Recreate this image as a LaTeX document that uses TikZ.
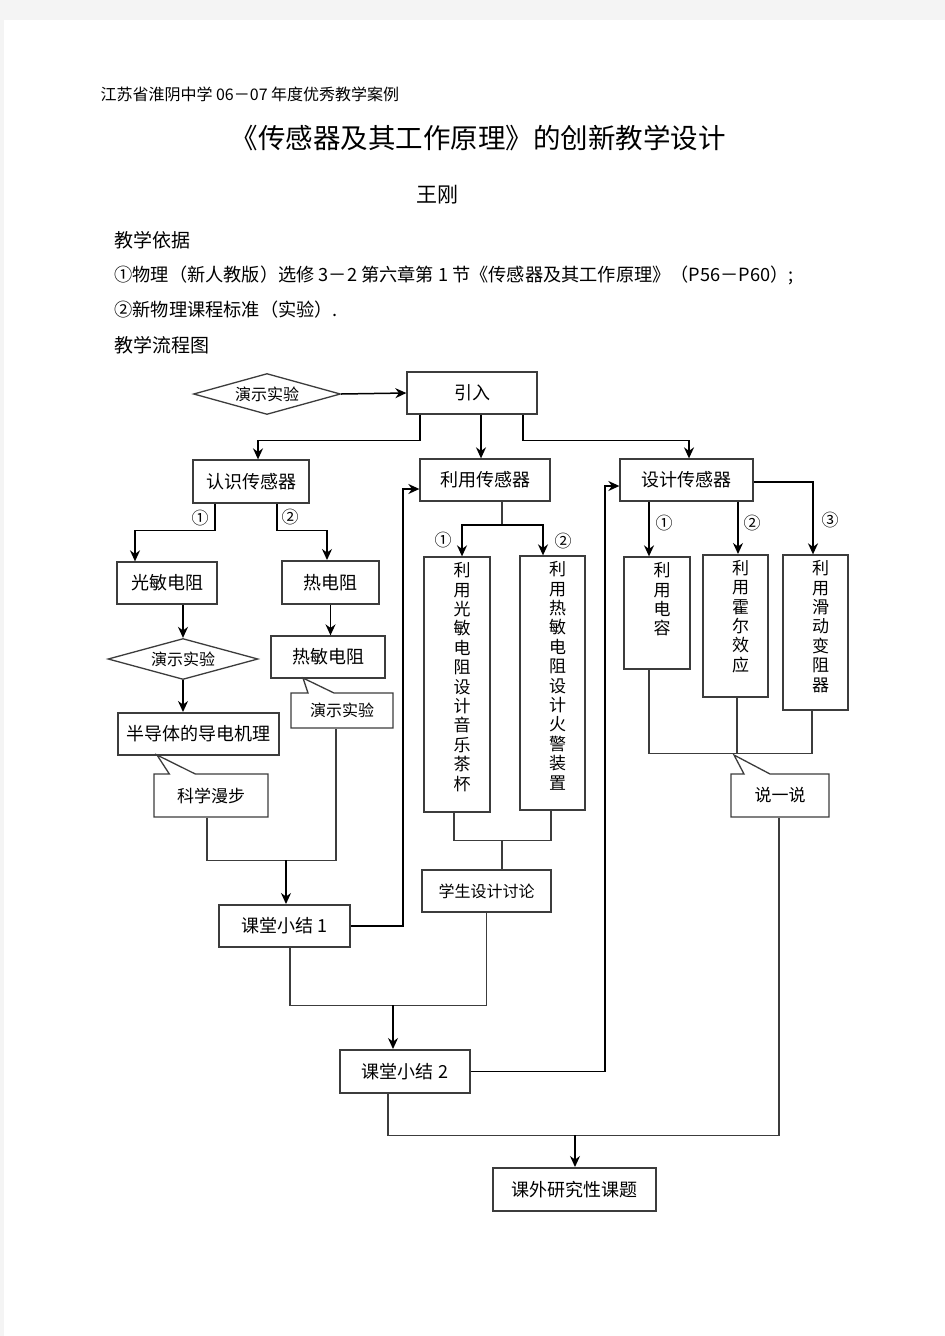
\documentclass[tikz,border=0pt]{standalone}
\usepackage{fontspec}
\setmainfont{Noto Sans CJK SC}
\usetikzlibrary{arrows.meta, shapes.geometric, shapes.callouts}

\definecolor{linegray}{HTML}{3C3C3C}
\definecolor{pagegray}{HTML}{F4F4F4}

\tikzset{
  fs16/.style={font=\fontsize{16pt}{18pt}\selectfont},
  fs17/.style={font=\fontsize{17pt}{19pt}\selectfont},
  fs18/.style={font=\fontsize{18pt}{20pt}\selectfont},
  box/.style={draw=linegray, line width=1.3pt, rectangle, minimum height=42pt, inner sep=0pt, fs18},
  tbox/.style={box, line width=2pt},
  tallbox/.style={draw=linegray, line width=1.3pt, rectangle, inner sep=0pt},
  vtext/.style={align=center, inner sep=0pt, font=\fontsize{17pt}{19.4pt}\selectfont},
  demo/.style={draw=linegray, line width=1.3pt, diamond, aspect=3.6, inner sep=0pt, fs16},
  note/.style={draw=linegray, line width=1.3pt, rectangle callout, callout pointer width=26pt, inner sep=0pt, fs17},
  conn/.style={draw=linegray, line width=1.3pt},
  arr/.style={draw=black, line width=1.5pt, -{Stealth[length=11pt, width=10pt]}},
  num/.style={inner sep=0pt, fs17},
}

\begin{document}
\begin{tikzpicture}[x=1pt, y=-1pt]
    % Page
    \useasboundingbox (0,0) rectangle (945,1336);
    \fill[pagegray] (0,0) rectangle (945,1336);
    \fill[white] (4,20) rectangle (945,1336);

    % Heading
    \node[anchor=west, fs16] at (97,94) (school) {江苏省淮阴中学 06－07 年度优秀教学案例};
    \node[font=\fontsize{27.5pt}{30pt}\selectfont] at (478,138) (title) {《传感器及其工作原理》的创新教学设计};
    \node[font=\fontsize{21pt}{24pt}\selectfont] at (437,195) (author) {王刚};
    \node[anchor=west, font=\fontsize{19pt}{21pt}\selectfont] at (111,240) (basis) {教学依据};
    \node[anchor=west, font=\fontsize{18.2pt}{20pt}\selectfont] at (111,275) (refA) {①物理（新人教版）选修 3－2 第六章第 1 节《传感器及其工作原理》（P56－P60）;};
    \node[anchor=west, font=\fontsize{18.2pt}{20pt}\selectfont] at (111,310) (refB) {②新物理课程标准（实验）.};
    \node[anchor=west, font=\fontsize{19pt}{21pt}\selectfont] at (111,345) (flow) {教学流程图};

    % Nodes
    \node[demo, minimum width=147pt, minimum height=41pt] at (267,394) (demoA) {演示实验};
    \node[box, minimum width=130pt] at (472,393) (intro) {引入};
    \node[box, minimum width=116pt, minimum height=43pt] at (251,481.5) (know) {认识传感器};
    \node[box, minimum width=130pt] at (485,480) (use) {利用传感器};
    \node[box, minimum width=133pt] at (686.5,480) (design) {设计传感器};
    \node[box, minimum width=100pt] at (167,583) (photo) {光敏电阻};
    \node[tbox, minimum width=97pt, minimum height=43pt] at (330.5,582.5) (thermo) {热电阻};
    \node[demo, minimum width=150pt, minimum height=41pt] at (183,659) (demoB) {演示实验};
    \node[box, minimum width=114pt] at (328,657) (thermB) {热敏电阻};
    \node[tbox, minimum width=161pt] at (198.5,734) (semi) {半导体的导电机理};
    \node[note, minimum width=114pt, minimum height=43pt, callout absolute pointer={(157,755)}] at (211,795.5) (sci) {科学漫步};
    \node[note, fs16, minimum width=102pt, minimum height=35pt, callout absolute pointer={(303,678)}] at (342,710.5) (demoC) {演示实验};
    \node[tbox, minimum width=131pt] at (284.5,926) (sumA) {课堂小结 1};
    \node[tallbox, minimum width=66pt, minimum height=255pt] at (457,684.5) (cup) {};
    \node[vtext, anchor=north] at ([xshift=5pt, yshift=-6pt]cup.north) (cupText) {利\\用\\光\\敏\\电\\阻\\设\\计\\音\\乐\\茶\\杯};
    \node[tallbox, minimum width=65pt, minimum height=254pt] at (552.5,683) (alarm) {};
    \node[vtext, anchor=north] at ([xshift=5pt, yshift=-6pt]alarm.north) (alarmText) {利\\用\\热\\敏\\电\\阻\\设\\计\\火\\警\\装\\置};
    \node[box, fs16, minimum width=129pt] at (486.5,891) (discuss) {学生设计讨论};
    \node[tbox, minimum width=130pt, minimum height=43pt] at (405,1071.5) (sumB) {课堂小结 2};
    \node[tallbox, minimum width=66pt, minimum height=112pt] at (657,613) (cap) {};
    \node[vtext, anchor=north] at ([xshift=5pt, yshift=-6pt]cap.north) (capText) {利\\用\\电\\容};
    \node[tallbox, line width=2pt, minimum width=65pt, minimum height=142pt] at (735.5,626) (hall) {};
    \node[vtext, anchor=north] at ([xshift=5pt, yshift=-6pt]hall.north) (hallText) {利\\用\\霍\\尔\\效\\应};
    \node[tallbox, minimum width=65pt, minimum height=155pt] at (815.5,632.5) (slide) {};
    \node[vtext, anchor=north] at ([xshift=5pt, yshift=-6pt]slide.north) (slideText) {利\\用\\滑\\动\\变\\阻\\器};
    \node[note, minimum width=98pt, minimum height=43pt, callout absolute pointer={(734,755)}] at (780,795.5) (talk) {说一说};
    \node[tbox, minimum width=163pt, minimum height=43pt] at (574.5,1189.5) (extra) {课外研究性课题};

    % Branch marks
    \node[num] at (200,518) (knowA) {①};
    \node[num] at (290,517) (knowB) {②};
    \node[num] at (443,540) (useA) {①};
    \node[num] at (563,541) (useB) {②};
    \node[num] at (664,523) (designA) {①};
    \node[num] at (752,523) (designB) {②};
    \node[num] at (830,520) (designC) {③};

    % Edges
    \draw[arr] (demoA.east) -- (intro.west);
    \draw[arr] ([xshift=-52pt]intro.south) -- ++(0,26) -| ([xshift=7pt]know.north);
    \draw[arr] ([xshift=9pt]intro.south) -- ([xshift=9pt]intro.south |- use.north);
    \draw[arr] ([xshift=51pt]intro.south) -- ++(0,26) -| ([xshift=2.5pt]design.north);

    \draw[arr] ([xshift=-36pt]know.south) -- ++(0,27) -| ([xshift=-32pt]photo.north);
    \draw[arr] ([xshift=26pt]know.south) -- ++(0,27) -| ([xshift=-3.5pt]thermo.north);
    \draw[arr] ([xshift=16pt]photo.south) -- (demoB.north);
    \draw[arr] (demoB.south) -- (demoB.south |- semi.north);
    \draw[arr] (thermo.south) -- (thermo.south |- thermB.north);

    \draw[conn] ([xshift=-4pt]sci.south) -- ++(0,43) -| ([xshift=-6pt]demoC.south);
    \coordinate (joinA) at (286,860);
    \draw[arr] (joinA) -- (joinA |- sumA.north);
    \draw[arr] (sumA.east) -- ++(52,0) |- ([yshift=-9pt]use.west);

    \coordinate (joinB) at (502,525);
    \draw[conn, line width=2pt] ([xshift=17pt]use.south) -- (joinB);
    \draw[arr] (joinB) -| ([xshift=5pt]cup.north);
    \draw[arr] (joinB) -| ([xshift=-9.5pt]alarm.north);
    \draw[conn] ([xshift=-3pt]cup.south) -- ++(0,28) -| ([xshift=-1.5pt]alarm.south);
    \coordinate (joinC) at (502,840);
    \draw[conn, line width=2pt] (joinC) -- (joinC |- discuss.north);

    \draw[conn] (discuss.south) -- ++(0,93) -| ([xshift=5.5pt]sumA.south);
    \coordinate (joinD) at (393,1005);
    \draw[arr] (joinD) -- (joinD |- sumB.north);
    \draw[arr] (sumB.east) -- ++(134,0) |- ([yshift=-6pt]design.west);

    \draw[arr] ([xshift=-37.5pt]design.south) -- ([xshift=-37.5pt]design.south |- cap.north);
    \draw[arr] ([xshift=51.5pt]design.south) -- ([xshift=51.5pt]design.south |- hall.north);
    \draw[arr] ([yshift=-2pt]design.east) -| ([xshift=-2.5pt]slide.north);
    \draw[conn] ([xshift=-8pt]cap.south) -- ++(0,84) -| ([xshift=-3.5pt]slide.south);
    \draw[conn] ([xshift=1.5pt]hall.south) -- ++(0,56);

    \draw[conn] ([xshift=-1pt]talk.south) -- ++(0,318) -| ([xshift=-17pt]sumB.south);
    \coordinate (joinE) at (575,1135);
    \draw[arr] (joinE) -- (joinE |- extra.north);
\end{tikzpicture}
\end{document}
